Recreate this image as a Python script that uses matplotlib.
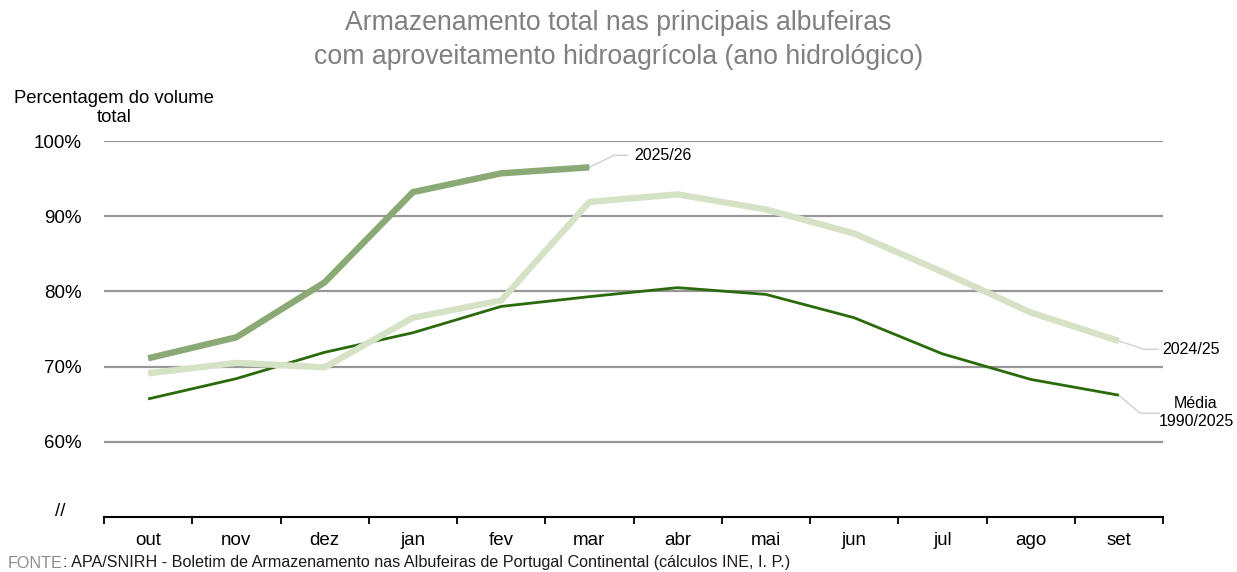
import matplotlib.pyplot as plt

plt.rcParams['font.family'] = ['Liberation Sans', 'DejaVu Sans']

meses = ["out", "nov", "dez", "jan", "fev", "mar", "abr", "mai", "jun", "jul", "ago", "set"]
ano_2025_26 = [71.1, 73.9, 81.2, 93.2, 95.7, 96.5]
ano_2024_25 = [69.1, 70.5, 69.9, 76.5, 78.8, 91.9, 92.9, 90.9, 87.7, 82.6, 77.2, 73.4]
media = [65.7, 68.4, 71.9, 74.5, 78.0, 79.3, 80.5, 79.6, 76.5, 71.7, 68.3, 66.2]
y_ticks = [60, 70, 80, 90, 100]

fig = plt.figure(figsize=(12.37, 5.72), dpi=100)
ax = fig.add_axes([104 / 1237, 55 / 572, 1059 / 1237, 376 / 572])

x = list(range(len(meses)))
ax.plot(x, media, color="#2b6a0b", lw=2.0, solid_capstyle="butt", zorder=3)
ax.plot(x, ano_2024_25, color="#d6e2c5", lw=4.6, solid_capstyle="butt", zorder=4)
ax.plot(x[:len(ano_2025_26)], ano_2025_26, color="#8aa975", lw=4.6, solid_capstyle="butt", zorder=5)

ax.set_xlim(-0.5, 11.5)
ax.set_ylim(50, 100)
ax.set_yticks(y_ticks)
ax.set_yticklabels([f"{v}%" for v in y_ticks], fontsize=13.5)
ax.grid(axis="y", color="#979797", lw=1.6, zorder=1)
ax.tick_params(axis="y", length=0, pad=16)

ax.set_xticks(x)
ax.set_xticklabels(meses, fontsize=13.5)
ax.set_xticks([i - 0.5 for i in range(13)], minor=True)
ax.tick_params(axis="x", which="major", length=0, pad=11)
ax.tick_params(axis="x", which="minor", length=5, width=1.3, direction="out")

for s in ["top", "right", "left"]:
    ax.spines[s].set_visible(False)
ax.spines["bottom"].set_linewidth(1.5)

# etiquetas de fim de série
lc = "#d0d0d0"
ax.annotate("2025/26", xy=(5, ano_2025_26[-1]), xytext=(634, 572 - 155), textcoords="figure pixels",
            fontsize=11.5, va="center", ha="left")
ax.plot([5, 5.28, 5.43], [ano_2025_26[-1], 98.1, 98.1], color=lc, lw=1, zorder=2, clip_on=False)

ax.annotate("2024/25", xy=(11, ano_2024_25[-1]), xytext=(1162, 572 - 349), textcoords="figure pixels",
            fontsize=11.5, va="center", ha="left")
ax.plot([11, 11.29, 11.44], [ano_2024_25[-1], 72.3, 72.3], color=lc, lw=1, zorder=2, clip_on=False)

ax.annotate("Média\n1990/2025", xy=(11, media[-1]), xytext=(1196, 572 - 413), textcoords="figure pixels",
            fontsize=11.5, va="center", ha="center", linespacing=1.25)
ax.plot([11, 11.24, 11.46], [media[-1], 63.8, 63.8], color=lc, lw=1, zorder=2, clip_on=False)

fig.text(60 / 1237, 1 - 512 / 572, "//", fontsize=13.5, ha="center", va="center")
fig.text(114 / 1237, 1 - 108 / 572, "Percentagem do volume\ntotal", fontsize=13.3,
         ha="center", va="center", linespacing=1.2)
fig.text(0.5, 1 - 40 / 572, "Armazenamento total nas principais albufeiras\ncom aproveitamento hidroagrícola (ano hidrológico)",
         fontsize=19.2, color="#808080", ha="center", va="center", linespacing=1.45)

fonte = fig.text(8 / 1237, 1 - 563 / 572, "FONTE", fontsize=11.6, color="#8c8c8c", ha="left", va="center")
ax.annotate(": APA/SNIRH - Boletim de Armazenamento nas Albufeiras de Portugal Continental (cálculos INE, I. P.)",
            xy=(1, 0.5), xycoords=fonte, fontsize=11.6, color="#1a1a1a", ha="left", va="center",
            annotation_clip=False)

fig.savefig("out.png", dpi=100)
